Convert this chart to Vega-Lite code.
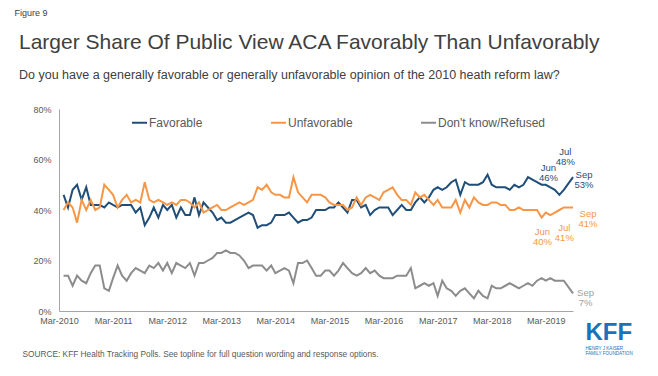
{
  "$schema": "https://vega.github.io/schema/vega-lite/v6.json",
  "width": 514,
  "height": 202,
  "autosize": "none",
  "padding": {"left": 59, "top": 109, "right": 85, "bottom": 65},
  "background": "white",
  "config": {"view": {"stroke": null}, "font": "Liberation Sans"},
  "title": {
    "text": "Larger Share Of Public View ACA Favorably Than Unfavorably",
    "subtitle": "Do you have a generally favorable or generally unfavorable opinion of the 2010 heath reform law?",
    "anchor": "start",
    "frame": "group",
    "dx": -40,
    "offset": -73,
    "font": "Liberation Sans",
    "fontSize": 21,
    "fontWeight": "normal",
    "color": "#404040",
    "subtitleFont": "Liberation Sans",
    "subtitleFontSize": 12.5,
    "subtitleColor": "#404040",
    "subtitlePadding": 16
  },
  "layer": [
    {
      "data": {"values": [
        {"month":"2010-04","fav":46,"unfav":40,"dk":14},
        {"month":"2010-05","fav":41,"unfav":43,"dk":14},
        {"month":"2010-06","fav":48,"unfav":41,"dk":10},
        {"month":"2010-07","fav":50,"unfav":35,"dk":14},
        {"month":"2010-08","fav":44,"unfav":44,"dk":12},
        {"month":"2010-09","fav":49,"unfav":40,"dk":11},
        {"month":"2010-10","fav":42,"unfav":44,"dk":15},
        {"month":"2010-11","fav":42,"unfav":40,"dk":18},
        {"month":"2010-12","fav":42,"unfav":41,"dk":18},
        {"month":"2011-01","fav":41,"unfav":50,"dk":9},
        {"month":"2011-02","fav":43,"unfav":48,"dk":8},
        {"month":"2011-03","fav":42,"unfav":46,"dk":13},
        {"month":"2011-04","fav":41,"unfav":41,"dk":18},
        {"month":"2011-05","fav":42,"unfav":44,"dk":14},
        {"month":"2011-06","fav":42,"unfav":46,"dk":12},
        {"month":"2011-07","fav":42,"unfav":43,"dk":15},
        {"month":"2011-08","fav":39,"unfav":44,"dk":17},
        {"month":"2011-09","fav":41,"unfav":43,"dk":16},
        {"month":"2011-10","fav":34,"unfav":51,"dk":15},
        {"month":"2011-11","fav":37,"unfav":44,"dk":18},
        {"month":"2011-12","fav":41,"unfav":43,"dk":17},
        {"month":"2012-01","fav":37,"unfav":44,"dk":19},
        {"month":"2012-02","fav":42,"unfav":43,"dk":16},
        {"month":"2012-03","fav":40,"unfav":42,"dk":19},
        {"month":"2012-04","fav":42,"unfav":43,"dk":15},
        {"month":"2012-05","fav":37,"unfav":42,"dk":19},
        {"month":"2012-06","fav":41,"unfav":44,"dk":18},
        {"month":"2012-07","fav":38,"unfav":44,"dk":17},
        {"month":"2012-08","fav":38,"unfav":43,"dk":19},
        {"month":"2012-09","fav":45,"unfav":41,"dk":14},
        {"month":"2012-10","fav":38,"unfav":43,"dk":19},
        {"month":"2012-11","fav":43,"unfav":39,"dk":19},
        {"month":"2012-12","fav":41,"unfav":40,"dk":20},
        {"month":"2013-01","fav":39,"unfav":41,"dk":21},
        {"month":"2013-02","fav":36,"unfav":42,"dk":23},
        {"month":"2013-03","fav":37,"unfav":40,"dk":23},
        {"month":"2013-04","fav":35,"unfav":40,"dk":24},
        {"month":"2013-05","fav":35,"unfav":41,"dk":23},
        {"month":"2013-06","fav":36,"unfav":42,"dk":23},
        {"month":"2013-07","fav":37,"unfav":43,"dk":22},
        {"month":"2013-08","fav":38,"unfav":42,"dk":20},
        {"month":"2013-09","fav":39,"unfav":43,"dk":17},
        {"month":"2013-10","fav":38,"unfav":44,"dk":18},
        {"month":"2013-11","fav":33,"unfav":49,"dk":18},
        {"month":"2013-12","fav":34,"unfav":48,"dk":18},
        {"month":"2014-01","fav":34,"unfav":50,"dk":16},
        {"month":"2014-02","fav":35,"unfav":47,"dk":18},
        {"month":"2014-03","fav":38,"unfav":46,"dk":15},
        {"month":"2014-04","fav":38,"unfav":46,"dk":16},
        {"month":"2014-05","fav":38,"unfav":45,"dk":17},
        {"month":"2014-06","fav":39,"unfav":45,"dk":16},
        {"month":"2014-07","fav":37,"unfav":53,"dk":11},
        {"month":"2014-08","fav":35,"unfav":47,"dk":19},
        {"month":"2014-09","fav":36,"unfav":45,"dk":19},
        {"month":"2014-10","fav":36,"unfav":43,"dk":20},
        {"month":"2014-11","fav":37,"unfav":46,"dk":17},
        {"month":"2014-12","fav":40,"unfav":46,"dk":14},
        {"month":"2015-01","fav":40,"unfav":46,"dk":14},
        {"month":"2015-02","fav":40,"unfav":45,"dk":16},
        {"month":"2015-03","fav":41,"unfav":43,"dk":16},
        {"month":"2015-04","fav":41,"unfav":42,"dk":14},
        {"month":"2015-05","fav":43,"unfav":42,"dk":16},
        {"month":"2015-06","fav":41,"unfav":42,"dk":19},
        {"month":"2015-07","fav":39,"unfav":40,"dk":17},
        {"month":"2015-08","fav":44,"unfav":41,"dk":15},
        {"month":"2015-09","fav":44,"unfav":45,"dk":14},
        {"month":"2015-10","fav":41,"unfav":42,"dk":15},
        {"month":"2015-11","fav":42,"unfav":45,"dk":17},
        {"month":"2015-12","fav":38,"unfav":46,"dk":15},
        {"month":"2016-01","fav":40,"unfav":45,"dk":16},
        {"month":"2016-02","fav":41,"unfav":44,"dk":14},
        {"month":"2016-03","fav":41,"unfav":47,"dk":13},
        {"month":"2016-04","fav":41,"unfav":48,"dk":13},
        {"month":"2016-05","fav":38,"unfav":49,"dk":13},
        {"month":"2016-06","fav":40,"unfav":46,"dk":14},
        {"month":"2016-07","fav":42,"unfav":44,"dk":14},
        {"month":"2016-08","fav":40,"unfav":44,"dk":14},
        {"month":"2016-09","fav":40,"unfav":42,"dk":17},
        {"month":"2016-10","fav":43,"unfav":47,"dk":9},
        {"month":"2016-11","fav":45,"unfav":45,"dk":10},
        {"month":"2016-12","fav":43,"unfav":46,"dk":11},
        {"month":"2017-01","fav":45,"unfav":44,"dk":10},
        {"month":"2017-02","fav":48,"unfav":42,"dk":11},
        {"month":"2017-03","fav":49,"unfav":44,"dk":6},
        {"month":"2017-04","fav":48,"unfav":41,"dk":12},
        {"month":"2017-05","fav":49,"unfav":41,"dk":9},
        {"month":"2017-06","fav":51,"unfav":41,"dk":8},
        {"month":"2017-07","fav":52,"unfav":44,"dk":6},
        {"month":"2017-08","fav":46,"unfav":39,"dk":8},
        {"month":"2017-09","fav":51,"unfav":44,"dk":9},
        {"month":"2017-10","fav":50,"unfav":41,"dk":7},
        {"month":"2017-11","fav":50,"unfav":45,"dk":5},
        {"month":"2017-12","fav":50,"unfav":43,"dk":8},
        {"month":"2018-01","fav":51,"unfav":42,"dk":6},
        {"month":"2018-02","fav":54,"unfav":42,"dk":5},
        {"month":"2018-03","fav":50,"unfav":43,"dk":10},
        {"month":"2018-04","fav":49,"unfav":43,"dk":9},
        {"month":"2018-05","fav":49,"unfav":42,"dk":9},
        {"month":"2018-06","fav":49,"unfav":42,"dk":10},
        {"month":"2018-07","fav":48,"unfav":40,"dk":11},
        {"month":"2018-08","fav":50,"unfav":40,"dk":10},
        {"month":"2018-09","fav":49,"unfav":41,"dk":9},
        {"month":"2018-10","fav":50,"unfav":40,"dk":10},
        {"month":"2018-11","fav":53,"unfav":40,"dk":11},
        {"month":"2018-12","fav":52,"unfav":40,"dk":10},
        {"month":"2019-01","fav":51,"unfav":40,"dk":12},
        {"month":"2019-02","fav":50,"unfav":37,"dk":13},
        {"month":"2019-03","fav":50,"unfav":39,"dk":12},
        {"month":"2019-04","fav":49,"unfav":38,"dk":13},
        {"month":"2019-05","fav":48,"unfav":39,"dk":12},
        {"month":"2019-06","fav":46,"unfav":40,"dk":12},
        {"month":"2019-07","fav":48,"unfav":41,"dk":12},
        {"month":"2019-09","fav":53,"unfav":41,"dk":7}
      ]},
      "transform": [{"fold": ["fav", "unfav", "dk"], "as": ["series", "pct"]}],
      "mark": {"type": "line", "strokeWidth": 2},
      "encoding": {
        "x": {
          "field": "month",
          "type": "temporal",
          "scale": {"type": "utc", "domain": [{"year": 2010, "month": 3, "date": 1, "utc": true}, {"year": 2019, "month": 9, "date": 1, "utc": true}]},
          "axis": {
            "values": [
              {"year": 2010, "month": 3, "date": 1, "utc": true},
              {"year": 2011, "month": 3, "date": 1, "utc": true},
              {"year": 2012, "month": 3, "date": 1, "utc": true},
              {"year": 2013, "month": 3, "date": 1, "utc": true},
              {"year": 2014, "month": 3, "date": 1, "utc": true},
              {"year": 2015, "month": 3, "date": 1, "utc": true},
              {"year": 2016, "month": 3, "date": 1, "utc": true},
              {"year": 2017, "month": 3, "date": 1, "utc": true},
              {"year": 2018, "month": 3, "date": 1, "utc": true},
              {"year": 2019, "month": 3, "date": 1, "utc": true}
            ],
            "format": "%b-%Y",
            "ticks": false,
            "grid": false,
            "domainColor": "#a6a6a6",
            "labelColor": "#595959",
            "labelFontSize": 9,
            "labelPadding": 5,
            "labelFlush": false,
            "labelOverlap": false,
            "labelBound": false,
            "title": "SOURCE: KFF Health Tracking Polls. See topline for full question wording and response options.",
            "titleFontSize": 8.3,
            "titleFontWeight": "normal",
            "titleColor": "#595959",
            "titleAnchor": "start",
            "titleAlign": "left",
            "titleBaseline": "top",
            "titleX": -37,
            "titleY": 38
          }
        },
        "y": {
          "field": "pct",
          "type": "quantitative",
          "scale": {"domain": [0, 80]},
          "axis": {
            "values": [0, 20, 40, 60, 80],
            "labelExpr": "datum.value + '%'",
            "ticks": false,
            "grid": false,
            "domainColor": "#a6a6a6",
            "labelColor": "#595959",
            "labelFontSize": 9,
            "labelPadding": 8,
            "labelFlush": false,
            "title": "Figure 9",
            "titleAngle": 0,
            "titleAlign": "left",
            "titleBaseline": "top",
            "titleX": -45,
            "titleY": -101,
            "titleFontSize": 9,
            "titleFontWeight": "normal",
            "titleColor": "#404040"
          }
        },
        "color": {
          "field": "series",
          "type": "nominal",
          "scale": {"domain": ["fav", "unfav", "dk"], "range": ["#1f4e79", "#f79646", "#8c8c8c"]},
          "legend": {
            "orient": "none",
            "legendX": 72,
            "legendY": 5,
            "direction": "horizontal",
            "title": null,
            "symbolType": "stroke",
            "symbolSize": 225,
            "symbolStrokeWidth": 2,
            "labelFontSize": 12,
            "labelColor": "#595959",
            "labelOffset": 1,
            "columnPadding": 64,
            "labelExpr": "datum.value == 'fav' ? 'Favorable' : datum.value == 'unfav' ? 'Unfavorable' : \"Don't know/Refused\""
          }
        }
      }
    },
    {
      "data": {"values": [{"month": "2019-06", "pct": 46, "label": "Jun\n46%"}]},
      "mark": {"type": "text", "dx": -11, "dy": -26.5, "fontSize": 9.5, "lineHeight": 10, "lineBreak": "\n", "align": "center", "baseline": "middle", "color": "#1f4e79"},
      "encoding": {"x": {"field": "month", "type": "temporal"}, "y": {"field": "pct", "type": "quantitative"}, "text": {"field": "label"}}
    },
    {
      "data": {"values": [{"month": "2019-07", "pct": 48, "label": "Jul\n48%"}]},
      "mark": {"type": "text", "dx": 1.5, "dy": -37.5, "fontSize": 9.5, "lineHeight": 10, "lineBreak": "\n", "align": "center", "baseline": "middle", "color": "#1f4e79"},
      "encoding": {"x": {"field": "month", "type": "temporal"}, "y": {"field": "pct", "type": "quantitative"}, "text": {"field": "label"}}
    },
    {
      "data": {"values": [{"month": "2019-09", "pct": 53, "label": "Sep\n53%"}]},
      "mark": {"type": "text", "dx": 11, "dy": -2, "fontSize": 9.5, "lineHeight": 10, "lineBreak": "\n", "align": "center", "baseline": "middle", "color": "#1f4e79"},
      "encoding": {"x": {"field": "month", "type": "temporal"}, "y": {"field": "pct", "type": "quantitative"}, "text": {"field": "label"}}
    },
    {
      "data": {"values": [{"month": "2019-06", "pct": 40, "label": "Jun\n40%"}]},
      "mark": {"type": "text", "dx": -17, "dy": 22, "fontSize": 9.5, "lineHeight": 10, "lineBreak": "\n", "align": "center", "baseline": "middle", "color": "#f79646"},
      "encoding": {"x": {"field": "month", "type": "temporal"}, "y": {"field": "pct", "type": "quantitative"}, "text": {"field": "label"}}
    },
    {
      "data": {"values": [{"month": "2019-07", "pct": 41, "label": "Jul\n41%"}]},
      "mark": {"type": "text", "dx": 0.5, "dy": 21, "fontSize": 9.5, "lineHeight": 10, "lineBreak": "\n", "align": "center", "baseline": "middle", "color": "#f79646"},
      "encoding": {"x": {"field": "month", "type": "temporal"}, "y": {"field": "pct", "type": "quantitative"}, "text": {"field": "label"}}
    },
    {
      "data": {"values": [{"month": "2019-09", "pct": 41, "label": "Sep\n41%"}]},
      "mark": {"type": "text", "dx": 15, "dy": 7, "fontSize": 9.5, "lineHeight": 10, "lineBreak": "\n", "align": "center", "baseline": "middle", "color": "#f79646"},
      "encoding": {"x": {"field": "month", "type": "temporal"}, "y": {"field": "pct", "type": "quantitative"}, "text": {"field": "label"}}
    },
    {
      "data": {"values": [{"month": "2019-09", "pct": 7, "label": "Sep\n7%"}]},
      "mark": {"type": "text", "dx": 12.5, "dy": 0, "fontSize": 9.5, "lineHeight": 10, "lineBreak": "\n", "align": "center", "baseline": "middle", "color": "#a0a0a0"},
      "encoding": {"x": {"field": "month", "type": "temporal"}, "y": {"field": "pct", "type": "quantitative"}, "text": {"field": "label"}}
    },
    {
      "data": {"values": [{"logo": "KFF"}]},
      "mark": {"type": "text", "dx": 12.5, "dy": 29, "fontSize": 24, "fontWeight": "bold", "align": "left", "baseline": "alphabetic", "color": "#1a73b9"},
      "encoding": {"x": {"datum": {"year": 2019, "month": 9, "date": 1, "utc": true}, "type": "temporal"}, "y": {"datum": 0, "type": "quantitative"}, "text": {"field": "logo"}}
    },
    {
      "data": {"values": [{"logo": "HENRY J KAISER\nFAMILY FOUNDATION"}]},
      "mark": {"type": "text", "lineBreak": "\n", "dx": 12.5, "dy": 35, "fontSize": 4.6, "lineHeight": 5, "align": "left", "baseline": "top", "color": "#1a73b9"},
      "encoding": {"x": {"datum": {"year": 2019, "month": 9, "date": 1, "utc": true}, "type": "temporal"}, "y": {"datum": 0, "type": "quantitative"}, "text": {"field": "logo"}}
    }
  ]
}
